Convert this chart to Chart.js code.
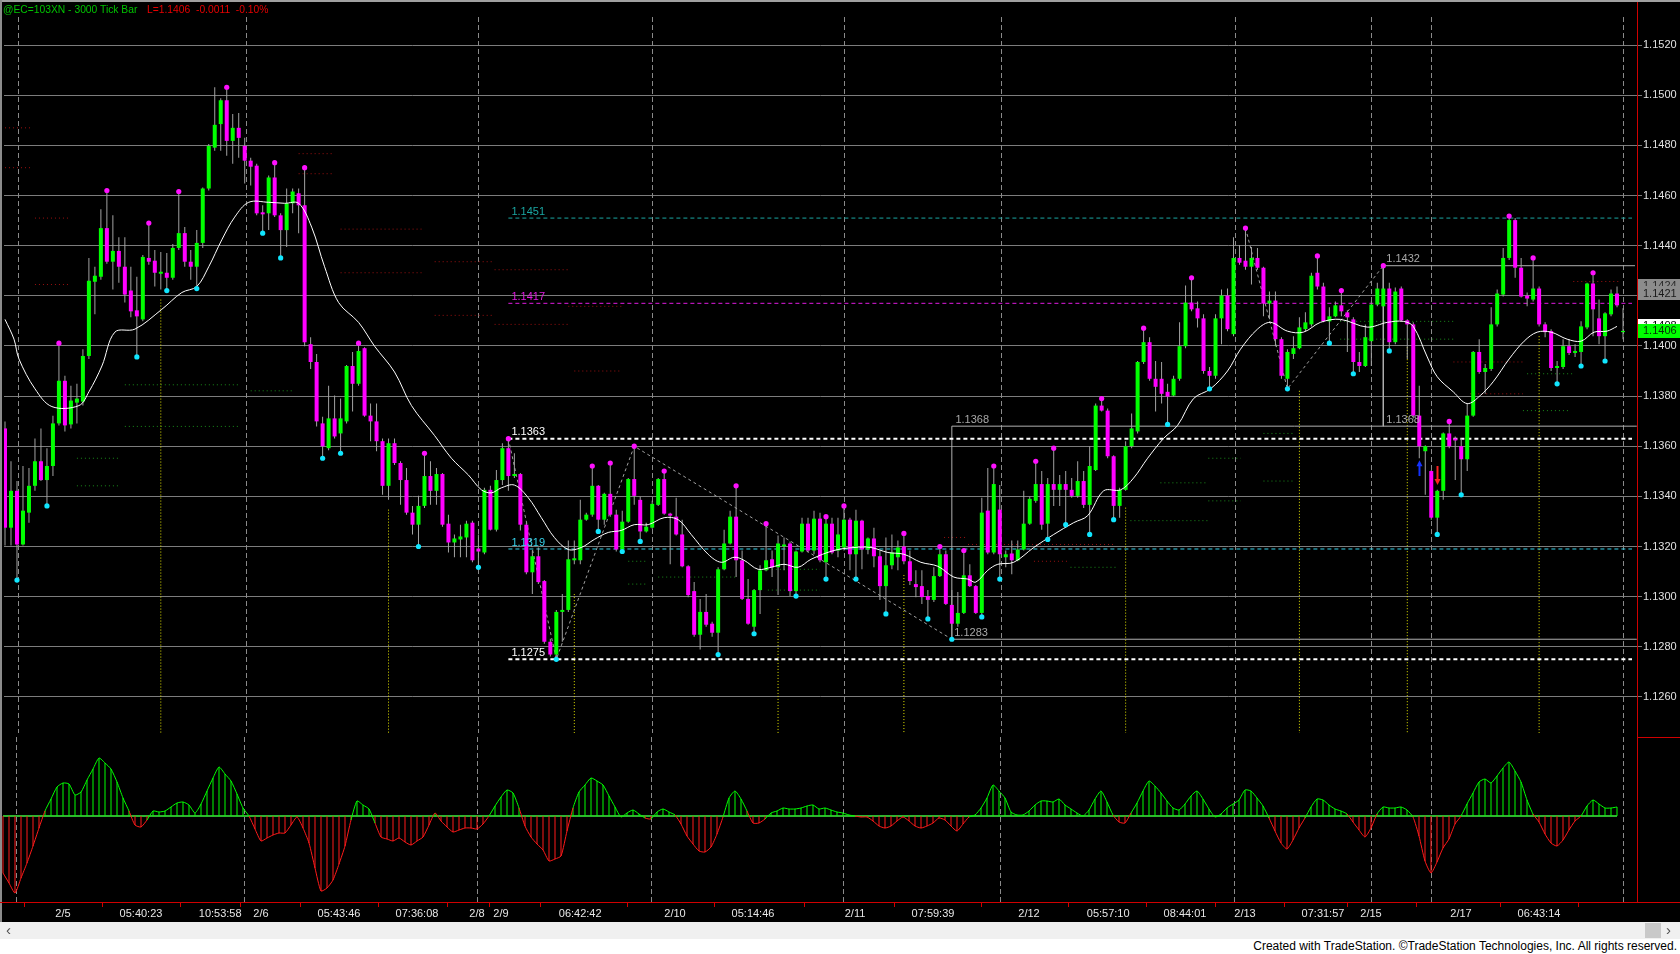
<!DOCTYPE html>
<html>
<head>
<meta charset="utf-8">
<script src="https://cdn.jsdelivr.net/npm/chart.js@4.4.1/dist/chart.umd.min.js"></script>
<style>
html,body{margin:0;padding:0;background:#000;}
body{width:1680px;height:954px;position:relative;overflow:hidden;font-family:"Liberation Sans",Arial,sans-serif;}
canvas{position:absolute;left:0;display:block;}
#cPrice{top:0;width:1680px;height:737px;}
#cOsc{top:737px;width:1680px;height:185px;}
.ln{position:absolute;}
#title{position:absolute;left:3px;top:3px;font-size:10.3px;line-height:14px;white-space:pre;z-index:5;}
#scroll{position:absolute;left:0;top:922px;width:1680px;height:17px;background:#f0f0f0;}
#footer{position:absolute;left:0;top:939px;width:1680px;height:15px;background:#fff;}
#footer span{position:absolute;right:3px;top:0px;font-family:"Liberation Sans Narrow","Liberation Sans",Arial,sans-serif;font-size:12px;line-height:15px;color:#000;white-space:nowrap;}
</style>
</head>
<body>
<canvas id="cPrice" width="1680" height="737"></canvas>
<canvas id="cOsc" width="1680" height="185"></canvas>
<div id="title"><span style="color:#00c400">@EC=103XN - 3000 Tick Bar</span><span style="position:absolute;left:144px;top:0;color:#e80000">L=1.1406  -0.0011  -0.10%</span></div>
<div class="ln" style="left:0;top:0;width:1680px;height:2px;background:#a0a0a0"></div>
<div class="ln" style="left:0;top:0;width:2px;height:922px;background:#8c8c8c"></div>
<div class="ln" style="left:1637px;top:2px;width:1px;height:900px;background:#d00000"></div>
<div class="ln" style="left:1637px;top:737px;width:43px;height:1px;background:#d00000"></div>
<div class="ln" style="left:0;top:902px;width:1680px;height:1px;background:#d00000"></div>
<div id="scroll">
  <span style="position:absolute;left:6px;top:-1px;font-size:15px;line-height:17px;color:#505050">&#8249;</span>
  <div style="position:absolute;left:1645px;top:1px;width:16px;height:15px;background:#c9c9c9"></div>
  <span style="position:absolute;left:1666px;top:-1px;font-size:15px;line-height:17px;color:#505050">&#8250;</span>
</div>
<div id="footer"><span>Created with TradeStation. &copy;TradeStation Technologies, Inc. All rights reserved.</span></div>
<script>
// ---------------- DATA ----------------
const opens = [
1.13671,1.13275,1.13422,1.13208,1.13335,1.13442,1.13540,1.13465,1.13521,1.13691,
1.13861,1.13687,1.13774,1.13778,1.13960,1.14256,1.14276,1.14470,1.14336,1.14379,
1.14316,1.14221,1.14142,1.14106,1.14351,1.14340,1.14288,1.14292,1.14272,1.14391,
1.14450,1.14336,1.14316,1.14411,1.14628,1.14791,1.14885,1.14980,1.14818,1.14870,
1.14798,1.14739,1.14719,1.14533,1.14529,1.14672,1.14521,1.14462,1.14569,1.14609,
1.14561,1.14007,1.13936,1.13691,1.13592,1.13711,1.13651,1.13699,1.13920,1.13849,
1.13991,1.13722,1.13699,1.13620,1.13442,1.13612,1.13533,1.13465,1.13335,1.13287,
1.13362,1.13481,1.13422,1.13489,1.13291,1.13216,1.13228,1.13236,1.13295,1.13192,
1.13176,1.13426,1.13267,1.13465,1.13592,1.13481,1.13489,1.13287,1.13097,1.13161,
1.13062,1.12820,1.12769,1.12939,1.12947,1.13145,1.13145,1.13307,1.13327,1.13442,
1.13307,1.13410,1.13327,1.13188,1.13299,1.13469,1.13386,1.13260,1.13275,1.13366,
1.13469,1.13331,1.13319,1.13248,1.13121,1.13022,1.12848,1.12939,1.12892,1.12856,
1.13109,1.13212,1.13319,1.13145,1.12991,1.12880,1.13026,1.13105,1.13149,1.13117,
1.13200,1.13212,1.13022,1.13180,1.13291,1.13184,1.13311,1.13137,1.13291,1.13184,
1.13196,1.13307,1.13169,1.13303,1.13188,1.13232,1.13161,1.13042,1.13125,1.13157,
1.13200,1.13141,1.13050,1.13042,1.13002,1.12987,1.13082,1.13169,1.12967,1.12892,
1.12935,1.13085,1.13042,1.12935,1.13343,1.13176,1.13347,1.13157,1.13172,1.13145,
1.13188,1.13291,1.13382,1.13449,1.13291,1.13449,1.13426,1.13449,1.13426,1.13402,
1.13461,1.13366,1.13505,1.13762,1.13742,1.13560,1.13362,1.13426,1.13600,1.13659,
1.13936,1.14015,1.13869,1.13869,1.13817,1.13802,1.13869,1.13999,1.14173,1.14150,
1.14110,1.13900,1.13881,1.14110,1.14201,1.14047,1.14351,1.14340,1.14316,1.14351,
1.14312,1.14169,1.14181,1.14027,1.13869,1.13968,1.13991,1.14067,1.14086,1.14292,
1.14237,1.14098,1.14118,1.14162,1.14134,1.14106,1.13936,1.13920,1.14019,1.14165,
1.14158,1.14229,1.14015,1.14229,1.14102,1.14086,1.13722,1.13580,1.13501,1.13315,
1.13422,1.13651,1.13631,1.13600,1.13548,1.13722,1.13976,1.13896,1.13908,1.14086,
1.14205,1.14351,1.14502,1.14312,1.14201,1.14185,1.14229,1.14086,1.14059,1.13912,
1.13916,1.13999,1.13972,1.13976,1.14074,1.14249,1.14110,1.14039,1.14126,1.14209,
1.14055];
const highs = [
1.13699,1.13540,1.13461,1.13521,1.13513,1.13631,1.13671,1.13592,1.13722,1.14011,
1.13881,1.13841,1.13849,1.13987,1.14351,1.14316,1.14545,1.14620,1.14521,1.14434,
1.14434,1.14316,1.14276,1.14363,1.14490,1.14383,1.14375,1.14371,1.14407,1.14616,
1.14474,1.14383,1.14462,1.14632,1.14806,1.15032,1.14988,1.15032,1.14925,1.14929,
1.14830,1.14751,1.14727,1.14561,1.14680,1.14731,1.14529,1.14628,1.14628,1.14628,
1.14711,1.14035,1.13968,1.13718,1.13841,1.13802,1.13790,1.13924,1.13976,1.14011,
1.13995,1.13770,1.13770,1.13631,1.13631,1.13631,1.13540,1.13513,1.13362,1.13402,
1.13572,1.13540,1.13513,1.13493,1.13327,1.13248,1.13287,1.13303,1.13303,1.13248,
1.13434,1.13442,1.13505,1.13612,1.13630,1.13572,1.13493,1.13295,1.13184,1.13196,
1.13066,1.12832,1.12947,1.13010,1.13224,1.13224,1.13386,1.13335,1.13521,1.13445,
1.13414,1.13533,1.13347,1.13343,1.13473,1.13600,1.13398,1.13295,1.13382,1.13473,
1.13501,1.13335,1.13394,1.13307,1.13125,1.13058,1.12991,1.13010,1.12900,1.13117,
1.13267,1.13343,1.13442,1.13184,1.13070,1.13030,1.13125,1.13291,1.13184,1.13244,
1.13236,1.13220,1.13184,1.13315,1.13315,1.13343,1.13335,1.13319,1.13315,1.13315,
1.13362,1.13315,1.13347,1.13307,1.13236,1.13275,1.13184,1.13236,1.13248,1.13224,
1.13252,1.13184,1.13105,1.13105,1.13026,1.13117,1.13200,1.13184,1.13026,1.13018,
1.13184,1.13129,1.13046,1.13394,1.13513,1.13521,1.13445,1.13184,1.13224,1.13224,
1.13422,1.13398,1.13540,1.13501,1.13473,1.13592,1.13485,1.13501,1.13473,1.13540,
1.13501,1.13600,1.13770,1.13790,1.13750,1.13564,1.13434,1.13620,1.13730,1.13940,
1.14071,1.14035,1.13940,1.13936,1.13849,1.13881,1.14094,1.14241,1.14272,1.14177,
1.14126,1.13916,1.14126,1.14225,1.14229,1.14434,1.14403,1.14470,1.14395,1.14391,
1.14316,1.14217,1.14217,1.14035,1.13987,1.14039,1.14114,1.14134,1.14292,1.14359,
1.14252,1.14154,1.14177,1.14221,1.14142,1.14114,1.13976,1.14086,1.14177,1.14252,
1.14320,1.14252,1.14233,1.14237,1.14106,1.14094,1.13841,1.13604,1.13505,1.13426,
1.13655,1.13699,1.13639,1.13631,1.13770,1.13980,1.14027,1.13928,1.14154,1.14225,
1.14391,1.14518,1.14510,1.14351,1.14213,1.14351,1.14237,1.14094,1.14067,1.13940,
1.14027,1.14027,1.14007,1.14098,1.14252,1.14292,1.14185,1.14134,1.14225,1.14237,
1.14150];
const lows = [
1.13204,1.13204,1.13066,1.13204,1.13295,1.13422,1.13461,1.13362,1.13481,1.13683,
1.13659,1.13671,1.13691,1.13762,1.13948,1.14126,1.14264,1.14328,1.14225,1.14252,
1.14173,1.14114,1.13956,1.14098,1.14324,1.14237,1.14225,1.14221,1.14264,1.14383,
1.14316,1.14264,1.14229,1.14391,1.14620,1.14779,1.14779,1.14759,1.14727,1.14751,
1.14648,1.14640,1.14521,1.14450,1.14462,1.14514,1.14351,1.14395,1.14529,1.14450,
1.13999,1.13908,1.13679,1.13552,1.13584,1.13631,1.13572,1.13691,1.13738,1.13841,
1.13718,1.13620,1.13580,1.13406,1.13386,1.13525,1.13366,1.13327,1.13248,1.13200,
1.13354,1.13366,1.13366,1.13279,1.13176,1.13157,1.13157,1.13157,1.13137,1.13117,
1.13169,1.13264,1.13260,1.13445,1.13422,1.13473,1.13264,1.13089,1.13010,1.13050,
1.12812,1.12761,1.12750,1.12820,1.12939,1.13129,1.13129,1.13303,1.13319,1.13260,
1.13287,1.13319,1.13180,1.13180,1.13295,1.13366,1.13220,1.13256,1.13271,1.13362,
1.13327,1.13129,1.13244,1.13117,1.12998,1.12840,1.12789,1.12880,1.12840,1.12769,
1.13105,1.13208,1.13078,1.12987,1.12888,1.12852,1.12931,1.13101,1.13078,1.13006,
1.13105,1.13002,1.13002,1.13176,1.13176,1.13169,1.13137,1.13070,1.13169,1.13157,
1.13184,1.13105,1.13070,1.13109,1.13169,1.13117,1.12987,1.12931,1.13109,1.13105,
1.13129,1.13046,1.12998,1.12971,1.12911,1.12979,1.13078,1.12967,1.12830,1.12880,
1.12931,1.13038,1.12931,1.12919,1.13169,1.13169,1.13070,1.13117,1.13089,1.13141,
1.13184,1.13287,1.13374,1.13267,1.13228,1.13362,1.13362,1.13287,1.13394,1.13394,
1.13354,1.13248,1.13501,1.13738,1.13552,1.13307,1.13315,1.13422,1.13592,1.13651,
1.13928,1.13861,1.13738,1.13770,1.13687,1.13798,1.13861,1.13991,1.14138,1.14074,
1.13889,1.13829,1.13869,1.14007,1.14059,1.14039,1.14324,1.14304,1.14245,1.14304,
1.14118,1.14106,1.13999,1.13869,1.13829,1.13948,1.13987,1.14059,1.14078,1.14225,
1.14094,1.14011,1.14114,1.14118,1.13976,1.13889,1.13896,1.13916,1.13920,1.14158,
1.14154,1.13980,1.14007,1.14098,1.13948,1.13711,1.13552,1.13406,1.13307,1.13248,
1.13386,1.13592,1.13465,1.13406,1.13501,1.13718,1.13889,1.13809,1.13900,1.14078,
1.14197,1.14343,1.14272,1.14193,1.14158,1.14177,1.14078,1.14035,1.13900,1.13849,
1.13908,1.13964,1.13956,1.13920,1.14067,1.14039,1.14007,1.13940,1.14118,1.14154,
1.14027];
const closes = [
1.13275,1.13422,1.13208,1.13343,1.13442,1.13540,1.13465,1.13521,1.13691,1.13861,
1.13683,1.13782,1.13790,1.13960,1.14260,1.14280,1.14470,1.14336,1.14379,1.14316,
1.14205,1.14138,1.14118,1.14355,1.14336,1.14292,1.14296,1.14272,1.14391,1.14450,
1.14336,1.14316,1.14411,1.14628,1.14798,1.14882,1.14980,1.14818,1.14870,1.14830,
1.14739,1.14715,1.14529,1.14525,1.14672,1.14521,1.14462,1.14569,1.14616,1.14561,
1.14015,1.13936,1.13699,1.13600,1.13711,1.13639,1.13711,1.13920,1.13849,1.13980,
1.13722,1.13699,1.13620,1.13442,1.13612,1.13533,1.13465,1.13335,1.13287,1.13362,
1.13481,1.13422,1.13489,1.13287,1.13216,1.13232,1.13240,1.13291,1.13145,1.13180,
1.13426,1.13267,1.13465,1.13592,1.13481,1.13489,1.13287,1.13097,1.13161,1.13058,
1.12820,1.12769,1.12939,1.12947,1.13149,1.13153,1.13307,1.13327,1.13442,1.13307,
1.13410,1.13327,1.13188,1.13299,1.13469,1.13402,1.13260,1.13279,1.13370,1.13469,
1.13331,1.13323,1.13248,1.13121,1.13006,1.12848,1.12939,1.12888,1.12856,1.13109,
1.13212,1.13319,1.13145,1.12991,1.12892,1.13026,1.13105,1.13145,1.13117,1.13212,
1.13208,1.13022,1.13180,1.13291,1.13184,1.13311,1.13145,1.13291,1.13176,1.13248,
1.13307,1.13169,1.13303,1.13188,1.13232,1.13161,1.13042,1.13125,1.13176,1.13196,
1.13141,1.13062,1.13038,1.12998,1.12987,1.13082,1.13169,1.12971,1.12892,1.12935,
1.13085,1.13042,1.12935,1.13335,1.13176,1.13449,1.13169,1.13169,1.13145,1.13188,
1.13291,1.13390,1.13449,1.13287,1.13449,1.13426,1.13449,1.13426,1.13402,1.13461,
1.13366,1.13521,1.13762,1.13742,1.13560,1.13362,1.13426,1.13600,1.13671,1.13936,
1.14015,1.13869,1.13837,1.13809,1.13798,1.13869,1.13999,1.14173,1.14146,1.14110,
1.13900,1.13881,1.14110,1.14201,1.14067,1.14351,1.14332,1.14316,1.14351,1.14312,
1.14169,1.14181,1.14027,1.13881,1.13976,1.13991,1.14074,1.14094,1.14280,1.14237,
1.14098,1.14118,1.14162,1.14138,1.14114,1.13936,1.13920,1.14035,1.14165,1.14229,
1.14229,1.14015,1.14217,1.14102,1.14086,1.13722,1.13600,1.13600,1.13315,1.13422,
1.13651,1.13600,1.13623,1.13548,1.13722,1.13976,1.13896,1.13912,1.14086,1.14209,
1.14351,1.14502,1.14312,1.14197,1.14189,1.14229,1.14086,1.14055,1.13912,1.13920,
1.13999,1.13972,1.13980,1.14078,1.14249,1.14146,1.14039,1.14130,1.14209,1.14162,
1.14060];

// moving average (white line), read at sample bars
const maIdx = [0,1.5,2.33,5,7.83,12.33,14,16.17,18.33,21.67,26.17,29.5,32,34,36.17,38.33,40.67,44,46.67,49,
51.17,53.33,55.67,59,61.67,65,67.83,71.67,74.5,77.33,79.5,81.17,82.83,85,87.33,89.5,91.67,94,96.17,98.33,
100.67,102.83,105,107.33,110,112.33,114.5,117.33,119.5,121.67,123.33,125.67,127.83,130,132.33,134.5,138.33,141.67,144.5,147.33,
150,152.83,155.67,158.33,160.67,162,164,165.67,168.33,171.67,175,178.33,180.67,183.33,186.17,188.33,190.67,193.33,195.67,198.33,
201.17,204,206.17,209,211.17,214,216.67,219.5,222.83,227.33,230.67,233.33,235,237.33,239,241.67,244,246.17,248.33,251,
253.5,255.67,258,260.67,263,265.17,267.33,269];
const maVal = [1.14106,1.14027,1.13948,1.13829,1.13758,1.13762,1.13817,1.13920,1.14055,1.14067,1.14146,1.14213,1.14237,1.14316,1.14423,1.14514,1.14573,1.14573,1.14569,1.14569,
1.14474,1.14316,1.14173,1.14094,1.13999,1.13896,1.13762,1.13643,1.13552,1.13485,1.13426,1.13414,1.13434,1.13445,1.13394,1.13315,1.13236,1.13188,1.13196,1.13228,
1.13256,1.13264,1.13287,1.13287,1.13315,1.13307,1.13248,1.13169,1.13137,1.13157,1.13145,1.13109,1.13117,1.13129,1.13117,1.13149,1.13184,1.13196,1.13196,1.13176,
1.13169,1.13137,1.13121,1.13078,1.13070,1.13058,1.13105,1.13129,1.13137,1.13196,1.13248,1.13295,1.13323,1.13422,1.13426,1.13473,1.13552,1.13631,1.13683,1.13790,
1.13829,1.13900,1.13987,1.14067,1.14094,1.14059,1.14055,1.14094,1.14106,1.14075,1.14094,1.14098,1.14078,1.13956,1.13877,1.13817,1.13770,1.13802,1.13857,1.13948,
1.14019,1.14055,1.14055,1.14027,1.14019,1.14055,1.14059,1.14078];

// oscillator (lower panel), one value per bar
const osc = [
-57,-67,-77,-62,-47,-30,-12,5,17,29,
33,32,21,24,36,47,58,53,47,34,
18,5,-9,-11,-4,5,4,5,9,13,
14,11,3,12,25,38,49,42,35,22,
8,0,-13,-25,-22,-19,-17,-17,-9,-1,
-12,-27,-52,-75,-72,-64,-48,-30,-4,15,
11,7,-7,-21,-23,-25,-22,-26,-29,-25,
-21,-9,3,-5,-11,-16,-14,-12,-12,-13,
-8,0,10,19,26,23,8,-10,-21,-28,
-34,-45,-43,-40,-15,8,24,31,38,35,
31,20,9,-1,3,6,2,-2,-3,4,
7,4,1,-8,-20,-28,-35,-36,-31,-18,
-1,18,25,17,5,-7,-7,-3,3,5,
8,7,7,8,10,11,7,8,6,4,
3,1,0,-1,-1,-5,-10,-12,-10,-5,
-1,-5,-10,-12,-10,-7,-2,-4,-10,-15,
-8,-1,1,8,18,31,25,18,4,1,
1,5,11,15,15,14,17,11,7,3,
0,6,17,25,14,1,-6,-7,3,13,
25,35,30,23,15,8,6,12,20,25,
17,7,-1,2,8,12,16,26,25,18,
10,-2,-15,-27,-33,-24,-12,-2,9,17,
16,11,7,5,2,-6,-14,-21,-12,2,
9,8,8,9,6,-1,-20,-45,-57,-46,
-32,-23,-8,0,12,23,34,37,33,40,
48,54,45,34,16,2,-6,-18,-27,-30,
-24,-14,-5,0,10,16,12,8,8,9];

// swing markers
const swingHighIdx = [9,17,24,29,37,45,50,59,70,84,98,101,105,110,122,127,137,140,150,156,160,165,172,175,183,190,198,207,219,223,230,241,251,255,265];
const swingLowIdx = [2,7,22,27,32,43,46,53,56,69,79,92,99,103,106,119,125,132,137,142,147,154,158,163,166,174,177,181,185,194,201,214,221,225,231,239,243,259,263,267];

// price axis ticks
const priceTicks = [1.1260,1.1280,1.1300,1.1320,1.1340,1.1360,1.1380,1.1400,1.1420,1.1440,1.1460,1.1480,1.1500,1.1520];

// time axis
const timeTickIdx = [10,23,36.2,43,56,69,79,83,96.2,112,125,142,155,171,184.2,197,207,220,228,243,256];
const timeTickLabels = ['2/5','05:40:23','10:53:58','2/6','05:43:46','07:36:08','2/8','2/9','06:42:42','2/10','05:14:46','2/11','07:59:39','2/12','05:57:10','08:44:01','2/13','07:31:57','2/15','2/17','06:43:14'];

// session separators (bar positions)
const sepIdx = [2.17,40.17,79,108,140,166.17,205.17,228,238,270];

// horizontal level lines
const levelPrices = [1.1451,1.1417,1.1363,1.1319,1.1275];
const levelFrom = 84, levelTo = 271.5;
const levelColors = ['#1aa6a2','#e01ae0','#ffffff','#35d2ea','#ffffff'];
const levelWidths = [1,1,2,1,2];

// range boxes
const boxSegs = [
  [[158,1.1368],[272.3,1.1368]],
  [[158,1.1283],[272.3,1.1283]],
  [[158,1.1283],[158,1.1368]],
  [[230,1.1432],[272,1.1432]],
  [[230,1.1432],[230,1.1368]]
];

// zigzag
const zigIdx = [84,92,105,158,null,207,214,230];
const zigPrice = [1.1363,1.1275,1.1360,1.1283,null,1.1447,1.13829,1.1432];

// event markers (yellow dotted verticals)
const eventIdx = [26,64,95,129,150,187,216,234,256];
const eventTop = [1.14185,1.13347,1.13010,1.12951,1.13086,1.13355,1.13821,1.13995,1.14039];

// pivot dotted segments
const pivRedFrom  = [0,0,5,5,49,49,56,56,71.7,81.7,71.7,81.7,94,95,156.7,160.7,171.7,241.7,244.5,261.7];
const pivRedTo    = [4.5,4.5,11,11,55,55,69.5,69.5,81.7,94,81.7,94,103,103,160.7,185,177.3,253.3,253.3,269.5];
const pivRedPrice = [1.14870,1.14711,1.14510,1.14245,1.14767,1.14687,1.14466,1.14292,1.14336,1.14304,1.14122,1.14086,1.14158,1.13900,1.13236,1.13208,1.13141,1.13936,1.13809,1.14257];
const pivGrnFrom  = [20,20,12,12,41,104,104,109,127.3,127.3,177.8,187.8,192.8,200.8,200.8,210,210,222.8,222.8,253.3,254];
const pivGrnTo    = [39,39,19,19,48,107.3,107.3,122,136,136,185.5,200.7,200.7,206.2,206.2,215.3,215.3,241.7,241.7,261,261.5];
const pivGrnPrice = [1.13845,1.13679,1.13552,1.13442,1.13821,1.13141,1.13050,1.13078,1.13026,1.13109,1.13117,1.13303,1.13454,1.13552,1.13382,1.13651,1.13461,1.14098,1.14027,1.13742,1.13889];

// text annotations
const annTexts = ['1.1451','1.1417','1.1363','1.1319','1.1275','1.1368','1.1283','1.1432','1.1368'];
const annIdx = [84.5,84.5,84.5,84.5,84.5,158.6,158.4,230.5,230.5];
const annPrice = [1.1451,1.1417,1.1363,1.1319,1.1275,1.1368,1.1283,1.1432,1.1368];
const annColors = ['#1aa6a2','#e01ae0','#ffffff','#35d2ea','#ffffff','#a8a8a8','#a8a8a8','#a8a8a8','#a8a8a8'];

// signal arrows
const arrowIdx = [236,239];
const arrowFrom = [1.13481,1.13521];
const arrowTo = [1.13544,1.13445];
const arrowColors = ['#1432ff','#ff2020'];

// right-axis price markers
const markPrices = [1.1424,1.1421,1.1408,1.1406];
const markBg = ['#8c8c8c','#8c8c8c','#ffffff','#00ff00'];
const markFg = ['#2a2a2a','#1a1a1a','#000000','#063006'];

// ---------------- SCALE SETTINGS ----------------
const X_MIN = -1/6, X_MAX = 272.3333;
const PRICE_MIN = 1.12456, PRICE_MAX = 1.15364;
const OSC_MIN = -86, OSC_MAX = 79;
const UP = '#00ff00', DOWN = '#ff00ff';
const FONT = '"Liberation Sans", Arial, sans-serif';

Chart.defaults.font.family = FONT;
Chart.defaults.animation = false;

function segData(from, to, price){
  const d = [];
  for (let k = 0; k < from.length; k++){
    d.push({x:from[k], y:price[k]}, {x:to[k], y:price[k]}, {x:to[k], y:null});
  }
  return d;
}

const sepPlugin = {
  id: 'seps',
  beforeDatasetsDraw(chart, args, opts){
    const {ctx, chartArea: a, scales: {x}} = chart;
    ctx.save();
    ctx.strokeStyle = '#8a8a8a';
    ctx.lineWidth = 1;
    ctx.setLineDash([5,3]);
    for (const v of sepIdx){
      const px = Math.round(x.getPixelForValue(v)) + 0.5;
      ctx.beginPath();
      ctx.moveTo(px, a.top + (opts.topGap || 0));
      ctx.lineTo(px, a.bottom);
      ctx.stroke();
    }
    ctx.restore();
  }
};

const annPlugin = {
  id: 'ann',
  afterDatasetsDraw(chart){
    const {ctx, scales: {x, y}} = chart;
    ctx.save();
    ctx.font = '11px ' + FONT;
    ctx.textAlign = 'left';
    ctx.textBaseline = 'bottom';
    annTexts.forEach((t, k) => {
      ctx.fillStyle = annColors[k];
      ctx.fillText(t, x.getPixelForValue(annIdx[k]), y.getPixelForValue(annPrice[k]) - 1);
    });
    arrowIdx.forEach((i, k) => {
      const px = Math.round(x.getPixelForValue(i)) + 0.5;
      const y0 = y.getPixelForValue(arrowFrom[k]);
      const y1 = y.getPixelForValue(arrowTo[k]);
      const dir = y1 < y0 ? -1 : 1;
      ctx.strokeStyle = arrowColors[k];
      ctx.fillStyle = arrowColors[k];
      ctx.lineWidth = 2;
      ctx.beginPath();
      ctx.moveTo(px, y0);
      ctx.lineTo(px, y1 - dir * 4);
      ctx.stroke();
      ctx.beginPath();
      ctx.moveTo(px, y1);
      ctx.lineTo(px - 3, y1 - dir * 6);
      ctx.lineTo(px + 3, y1 - dir * 6);
      ctx.closePath();
      ctx.fill();
    });
    ctx.restore();
  },
  afterDraw(chart){
    const {ctx, chartArea: a, scales: {y}} = chart;
    ctx.save();
    ctx.font = '11px ' + FONT;
    ctx.textAlign = 'left';
    ctx.textBaseline = 'middle';
    markPrices.forEach((p, k) => {
      const yc = y.getPixelForValue(p);
      ctx.fillStyle = markBg[k];
      ctx.fillRect(a.right + 1, Math.round(yc - 7), chart.width - a.right - 1, 14);
      ctx.fillStyle = markFg[k];
      ctx.fillText(p.toFixed(4), a.right + 6, yc + 0.5);
    });
    ctx.restore();
  }
};

// ---------------- PRICE CHART ----------------
const barIdx = opens.map((_, i) => i);
const bodyColors = barIdx.map(i => closes[i] >= opens[i] ? UP : DOWN);

const priceDatasets = [
  {type:'bar', label:'wick', data: barIdx.map(i => ({x:i, y:[lows[i], highs[i]]})),
   backgroundColor:'#a2a2a2', barThickness:1, grouped:false, inflateAmount:0, order:5},
  {type:'bar', label:'body', data: barIdx.map(i => ({x:i, y:[opens[i], closes[i]]})),
   backgroundColor: bodyColors, barThickness:4, minBarLength:1, grouped:false, inflateAmount:0, order:4},
  {type:'line', label:'ma', data: maIdx.map((v, k) => ({x:v, y:maVal[k]})),
   borderColor:'#ffffff', borderWidth:1, pointRadius:0, tension:0.35, order:3},
  {type:'line', label:'swingHigh', data: swingHighIdx.map(i => ({x:i, y:highs[i]})),
   showLine:false, pointRadius:2.6, pointBackgroundColor:'#ff10ff', pointBorderWidth:0, order:2},
  {type:'line', label:'swingLow', data: swingLowIdx.map(i => ({x:i, y:lows[i]})),
   showLine:false, pointRadius:2.6, pointBackgroundColor:'#10e6ff', pointBorderWidth:0, order:2},
  {type:'line', label:'events', data: eventIdx.flatMap((i, k) => [{x:i, y:eventTop[k]}, {x:i, y:PRICE_MIN}, {x:i, y:null}]),
   borderColor:'#e6e600', borderWidth:1, borderDash:[1,2], pointRadius:0, order:12},
  {type:'line', label:'pivRed', data: segData(pivRedFrom, pivRedTo, pivRedPrice),
   borderColor:'#9a1010', borderWidth:1, borderDash:[1,3], pointRadius:0, order:13},
  {type:'line', label:'pivGrn', data: segData(pivGrnFrom, pivGrnTo, pivGrnPrice),
   borderColor:'#1a8a1a', borderWidth:1, borderDash:[1,3], pointRadius:0, order:13},
  {type:'line', label:'boxes', data: boxSegs.flatMap(s => [{x:s[0][0], y:s[0][1]}, {x:s[1][0], y:s[1][1]}, {x:s[1][0], y:null}]),
   borderColor:'#b0b0b0', borderWidth:1, pointRadius:0, order:11},
  {type:'line', label:'zigzag', data: zigIdx.map((v, k) => ({x: v === null ? zigIdx[k-1] : v, y: zigPrice[k]})),
   borderColor:'#a0a0a0', borderWidth:1, borderDash:[3,3], pointRadius:0, order:10}
];
levelPrices.forEach((p, k) => {
  priceDatasets.push({type:'line', label:'level' + k, data:[{x:levelFrom, y:p}, {x:levelTo, y:p}],
    borderColor: levelColors[k], borderWidth: levelWidths[k], borderDash:[4,3], pointRadius:0, order:9});
});

new Chart(document.getElementById('cPrice'), {
  type:'bar',
  data:{datasets: priceDatasets},
  options:{
    responsive:false, devicePixelRatio:1, animation:false,
    layout:{padding:{left:2, top:2, right:0, bottom:0}},
    plugins:{legend:{display:false}, tooltip:{enabled:false}, seps:{topGap:13}},
    scales:{
      x:{type:'linear', min:X_MIN, max:X_MAX, offset:false, display:false},
      y:{type:'linear', position:'right', min:PRICE_MIN, max:PRICE_MAX, beginAtZero:false,
         afterBuildTicks: s => { s.ticks = priceTicks.map(v => ({value:v})); },
         afterFit: s => { s.width = 43; s.paddingTop = 0; s.paddingBottom = 0; },
         grid:{color:'#7c7c7c', lineWidth:1, tickLength:5, drawTicks:true},
         border:{display:false},
         ticks:{color:'#e2e2e2', font:{size:11, family:FONT}, padding:1,
                callback: v => Number(v).toFixed(4)}}
    }
  },
  plugins:[sepPlugin, annPlugin]
});

// ---------------- OSCILLATOR CHART ----------------
const OSC_UP = '#00ff00', OSC_DN = '#ff1a1a';
const oscData = osc.map((v, i) => ({x:i, y:v}));
new Chart(document.getElementById('cOsc'), {
  type:'bar',
  data:{datasets:[
    {type:'line', label:'zero', data:[{x:0, y:0}, {x:osc.length - 1, y:0}],
     borderColor:'#2fb42f', borderWidth:2, pointRadius:0, order:5},
    {type:'bar', label:'hist', data: oscData,
     backgroundColor: osc.map(v => v >= 0 ? OSC_UP : OSC_DN),
     barThickness:1, grouped:false, inflateAmount:0, order:3},
    {type:'line', label:'osc', data: oscData, borderWidth:1, pointRadius:0, tension:0.2,
     borderColor: OSC_UP,
     segment:{borderColor: c => ((c.p0.parsed.y + c.p1.parsed.y) / 2 >= 0 ? OSC_UP : OSC_DN)},
     order:2}
  ]},
  options:{
    responsive:false, devicePixelRatio:1, animation:false,
    layout:{padding:{left:2, top:0, right:43, bottom:0}},
    plugins:{legend:{display:false}, tooltip:{enabled:false}, seps:{topGap:0}},
    scales:{
      x:{type:'linear', min:X_MIN, max:X_MAX, offset:false, position:'bottom',
         afterBuildTicks: s => { s.ticks = timeTickIdx.map(v => ({value:v})); },
         afterFit: s => { s.height = 20; s.paddingLeft = 0; s.paddingRight = 0; },
         grid:{display:true, drawOnChartArea:false, drawTicks:true, tickLength:5, color:'#d00000'},
         border:{display:false},
         ticks:{color:'#e6e6e6', font:{size:11, family:FONT}, padding:0, autoSkip:false, maxRotation:0, minRotation:0,
                callback: (v, i) => timeTickLabels[i]}},
      y:{type:'linear', min:OSC_MIN, max:OSC_MAX, display:false, beginAtZero:false}
    }
  },
  plugins:[sepPlugin]
});
</script>
</body>
</html>
